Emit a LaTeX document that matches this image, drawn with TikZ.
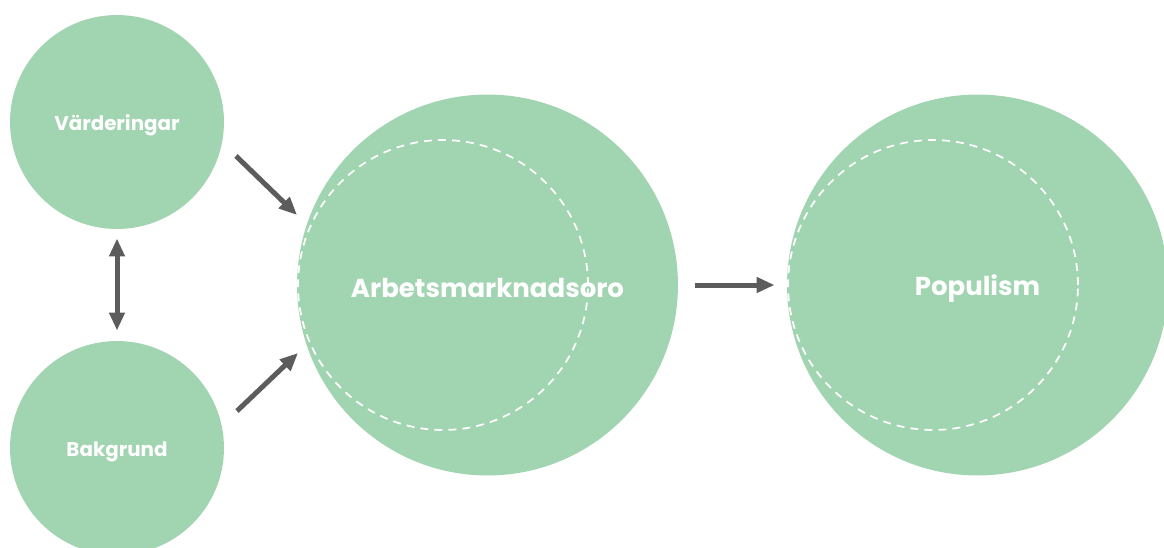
\documentclass[tikz,border=0pt]{standalone}
\usepackage{fontspec}
\setmainfont{Poppins}
\usetikzlibrary{arrows.meta}
\definecolor{ringgreen}{HTML}{A1D4B0}
\definecolor{arrowgrey}{HTML}{5C5C5C}

\begin{document}
\begin{tikzpicture}[x=0.02cm,y=-0.02cm,>={Triangle[length=3.6mm,width=3mm]},line width=1mm,
    small node/.style={circle,fill=ringgreen,inner sep=0pt,minimum size=4.28cm},
    big node/.style={circle,fill=ringgreen,inner sep=0pt,minimum size=7.62cm},
    small label/.style={text=white,font=\bfseries\fontsize{11.3}{13}\selectfont},
    big label/.style={text=white,font=\bfseries\fontsize{14.8}{17}\selectfont},
    dash ring/.style={circle,draw=white,line width=1pt,dash pattern=on 4.5pt off 3.5pt,inner sep=0pt,minimum size=5.8cm}]
                \useasboundingbox (0,0) rectangle (1164,548);

                \node[small node] (vard) at (117,122) {};
                \node[small node] (bak) at (117,448) {};
                \node[big node] (arb) at (487.5,285) {};
                \node[big node] (pop) at (977.5,285) {};
                \node[dash ring] (arbring) at (443,285) {};
                \node[dash ring] (popring) at (933,285) {};
                \node[small label] (vardlabel) at (117,125) {Värderingar};
                \node[small label] (baklabel) at (117,452) {Bakgrund};
                \node[big label] (arblabel) at (487.5,288) {Arbetsmarknadsoro};
                \node[big label] (poplabel) at (977.5,289) {Populism};

                \coordinate (vardout) at (236,156);
                \coordinate (arbin1) at (297,215);
                \coordinate (bakout) at (237,411);
                \coordinate (arbin2) at (298,353);

                \draw[arrowgrey,->] (vardout) -- (arbin1);
                \draw[arrowgrey,->] (bakout) -- (arbin2);
                \draw[arrowgrey,<->,shorten <=0.14cm,shorten >=0.16cm] (vard) -- (bak);
                \draw[arrowgrey,->,shorten <=0.3cm,shorten >=0.2cm] (arb) -- (pop);

            \end{tikzpicture}
\end{document}
